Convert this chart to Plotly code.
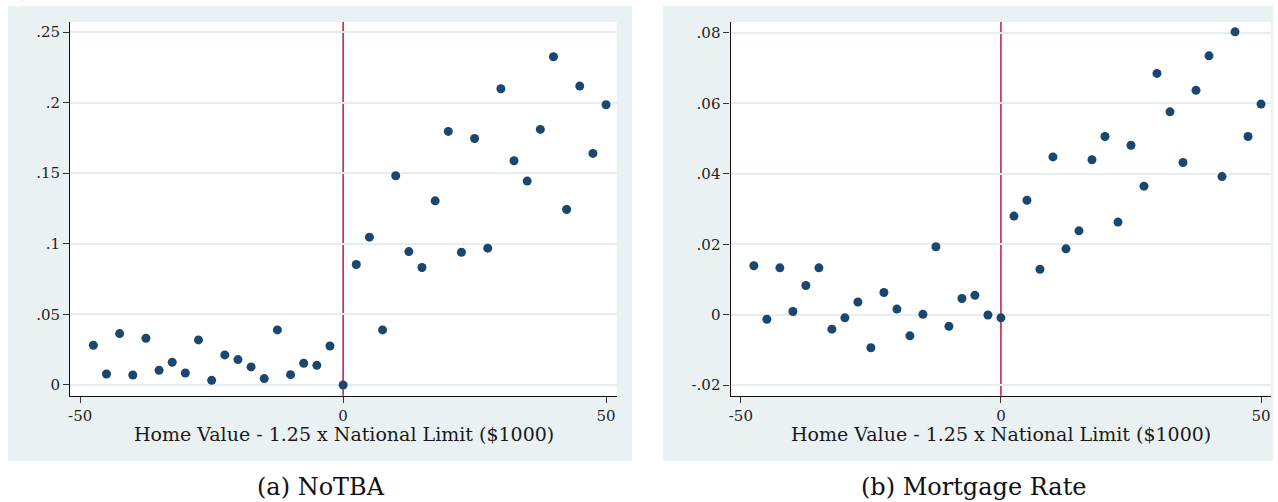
import plotly.graph_objects as go

# Binned running variable: home value minus 1.25 x national limit ($1000)
bins = [-47.5, -45, -42.5, -40, -37.5, -35, -32.5, -30, -27.5, -25,
        -22.5, -20, -17.5, -15, -12.5, -10, -7.5, -5, -2.5, 0,
        2.5, 5, 7.5, 10, 12.5, 15, 17.5, 20, 22.5, 25,
        27.5, 30, 32.5, 35, 37.5, 40, 42.5, 45, 47.5, 50]

# (a) share of loans not sold into TBA
notba = [0.0281, 0.0078, 0.0364, 0.0071, 0.0331, 0.0104, 0.0161, 0.0085, 0.0319, 0.0033,
         0.0213, 0.0180, 0.0128, 0.0045, 0.0390, 0.0073, 0.0154, 0.0139, 0.0276, 0.0000,
         0.0853, 0.1047, 0.0390, 0.1482, 0.0945, 0.0832, 0.1304, 0.1796, 0.0940, 0.1746,
         0.0969, 0.2098, 0.1588, 0.1444, 0.1810, 0.2325, 0.1243, 0.2117, 0.1640, 0.1985]

# (b) mortgage rate
mortgage_rate = [0.0139, -0.0013, 0.0133, 0.0009, 0.0083, 0.0133, -0.0041, -0.0009, 0.0036, -0.0094,
                 0.0063, 0.0016, -0.0060, 0.0001, 0.0193, -0.0033, 0.0046, 0.0055, -0.0001, -0.0009,
                 0.0280, 0.0325, 0.0129, 0.0448, 0.0187, 0.0238, 0.0440, 0.0506, 0.0263, 0.0481,
                 0.0365, 0.0685, 0.0576, 0.0432, 0.0637, 0.0735, 0.0392, 0.0803, 0.0506, 0.0598]

x_ticks = [-50, 0, 50]
x_tick_text = ["-50", "0", "50"]
notba_ticks = [0, 0.05, 0.10, 0.15, 0.20, 0.25]
notba_tick_text = ["0", ".05", ".1", ".15", ".2", ".25"]
rate_ticks = [-0.02, 0, 0.02, 0.04, 0.06, 0.08]
rate_tick_text = ["-.02", "0", ".02", ".04", ".06", ".08"]

x_title = "Home Value - 1.25 x National Limit ($1000)"
captions = ["(a) NoTBA", "(b) Mortgage Rate"]

W, H = 1278, 502
SERIF = "DejaVu Serif"
NAVY = "#1a476f"
RED = "#c8143c"
REGION = "#eaf1f3"
GRID = "#e4edf0"


def px_x(p):
    return p / W


def px_y(p):
    return 1 - p / H


# panel geometry in pixels: (region x0, region x1, plot x0, plot x1)
panels = [(6, 631, 68.3, 615.7), (662, 1273, 729.7, 1271)]
region_top, region_bottom = 6, 461
plot_top, plot_bottom = 22, 395.7

fig = go.Figure()

fig.add_trace(go.Scatter(x=bins, y=notba, mode="markers", xaxis="x", yaxis="y",
                         marker=dict(color=NAVY, size=9, line=dict(width=0)),
                         showlegend=False))
fig.add_trace(go.Scatter(x=bins, y=mortgage_rate, mode="markers", xaxis="x2", yaxis="y2",
                         marker=dict(color=NAVY, size=9, line=dict(width=0)),
                         showlegend=False))

axis_common = dict(showline=True, linecolor="#111111", linewidth=1.2, mirror=False,
                   ticks="outside", ticklen=6, tickwidth=1, tickcolor="#333333",
                   tickfont=dict(family=SERIF, size=15, color="#222222"),
                   zeroline=False, fixedrange=True)

fig.update_layout(
    width=W, height=H,
    margin=dict(l=0, r=0, t=0, b=0),
    paper_bgcolor="white",
    plot_bgcolor="white",
    xaxis=dict(domain=[px_x(panels[0][2]), px_x(panels[0][3])], range=[-51.9, 52.03],
               tickvals=x_ticks, ticktext=x_tick_text, showgrid=False, anchor="y",
               **axis_common),
    yaxis=dict(domain=[px_y(plot_bottom), px_y(plot_top)], range=[-0.0076, 0.2571],
               tickvals=notba_ticks, ticktext=notba_tick_text, showgrid=True,
               gridcolor=GRID, gridwidth=1.5, anchor="x", **axis_common),
    xaxis2=dict(domain=[px_x(panels[1][2]), px_x(panels[1][3])], range=[-51.98, 51.92],
                tickvals=x_ticks, ticktext=x_tick_text, showgrid=False, anchor="y2",
                **axis_common),
    yaxis2=dict(domain=[px_y(plot_bottom), px_y(plot_top)], range=[-0.0230, 0.0831],
                tickvals=rate_ticks, ticktext=rate_tick_text, showgrid=True,
                gridcolor=GRID, gridwidth=1.5, anchor="x2", **axis_common),
)

shapes = []
# graph regions (light bluish gray) then white plot regions on top
for rx0, rx1, _, _ in panels:
    shapes.append(dict(type="rect", xref="paper", yref="paper",
                       x0=px_x(rx0), x1=px_x(rx1), y0=px_y(region_bottom), y1=px_y(region_top),
                       fillcolor=REGION, line=dict(width=0), layer="below"))
for _, _, px0, px1 in panels:
    shapes.append(dict(type="rect", xref="paper", yref="paper",
                       x0=px_x(px0), x1=px_x(px1), y0=px_y(plot_bottom), y1=px_y(plot_top),
                       fillcolor="white", line=dict(width=0), layer="below"))
# threshold line at zero
for xr, yr in [("x", "y domain"), ("x2", "y2 domain")]:
    shapes.append(dict(type="line", xref=xr, yref=yr, x0=0, x1=0, y0=0, y1=1,
                       line=dict(color=RED, width=1.5), layer="below"))
fig.update_layout(shapes=shapes)

annotations = []
for (rx0, rx1, px0, px1), cap in zip(panels, captions):
    annotations.append(dict(text=x_title, xref="paper", yref="paper",
                            x=px_x((px0 + px1) / 2 + 0.5), y=px_y(434),
                            xanchor="center", yanchor="middle", showarrow=False,
                            borderpad=0,
                            font=dict(family=SERIF, size=19, color="#1a1a1a")))
annotations.append(dict(text=captions[0], xref="paper", yref="paper",
                        x=px_x(320), y=px_y(487), xanchor="center", yanchor="middle",
                        showarrow=False, font=dict(family=SERIF, size=24, color="#111111")))
annotations.append(dict(text=captions[1], xref="paper", yref="paper",
                        x=px_x(974), y=px_y(487), xanchor="center", yanchor="middle",
                        showarrow=False, font=dict(family=SERIF, size=24, color="#111111")))
# tail of the caption belonging to the panel above
annotations.append(dict(text=")", xref="paper", yref="paper",
                        x=px_x(23), y=px_y(4), xanchor="center", yanchor="bottom",
                        showarrow=False, font=dict(family=SERIF, size=22, color="#111111")))
fig.update_layout(annotations=annotations)

fig.write_html("out.html")
